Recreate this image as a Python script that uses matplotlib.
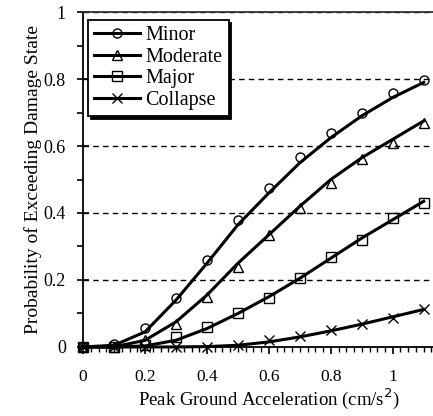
import numpy as np
import matplotlib
matplotlib.use("Agg")
import matplotlib.pyplot as plt
from matplotlib.ticker import MultipleLocator, FuncFormatter

plt.rcParams['font.family'] = ['Liberation Serif', 'DejaVu Serif']

# observed points (markers)
pga = [0.0, 0.1, 0.2, 0.3, 0.4, 0.5, 0.6, 0.7, 0.8, 0.9, 1.0, 1.1]
minor_pts = [0.0, 0.01, 0.057, 0.146, 0.26, 0.38, 0.475, 0.567, 0.64, 0.70, 0.758, 0.797]
moderate_pts = [0.0, 0.0, 0.02, 0.07, 0.15, 0.24, 0.334, 0.415, 0.49, 0.56, 0.61, 0.67]
major_pts = [0.0, 0.0, 0.005, 0.03, 0.06, 0.10, 0.145, 0.205, 0.27, 0.32, 0.385, 0.43]
collapse_pts = [0.0, 0.0, 0.0, 0.0, 0.0, 0.005, 0.02, 0.033, 0.05, 0.07, 0.087, 0.113]

# fitted curves
minor_fit = [0.0, 0.005, 0.045, 0.14, 0.25, 0.365, 0.46, 0.55, 0.625, 0.69, 0.745, 0.79]
moderate_fit = [0.0, 0.0, 0.02, 0.075, 0.155, 0.25, 0.335, 0.42, 0.50, 0.565, 0.62, 0.675]
major_fit = [0.0, 0.0, 0.003, 0.02, 0.055, 0.10, 0.15, 0.205, 0.265, 0.325, 0.38, 0.435]
collapse_fit = [0.0, 0.0, 0.0, 0.0, 0.001, 0.005, 0.015, 0.03, 0.048, 0.068, 0.09, 0.112]

labels = ['Minor', 'Moderate', 'Major', 'Collapse']
markers = ['o', '^', 's', 'x']

fig = plt.figure(figsize=(4.33, 4.16), dpi=100)
ax = fig.add_axes([0.192, 0.166, 0.808, 0.805])

pts = [minor_pts, moderate_pts, major_pts, collapse_pts]
fits = [minor_fit, moderate_fit, major_fit, collapse_fit]
handles = []
for p, f, m, lab in zip(pts, fits, markers, labels):
    ax.plot(pga, p, linestyle='none', marker=m, markersize=6.5,
            markerfacecolor='none', markeredgecolor='k', markeredgewidth=1.0,
            clip_on=False, zorder=3)
    ax.plot(pga, f, color='k', lw=2.2, zorder=4, clip_on=False)
    h, = ax.plot([], [], color='k', lw=2.2, marker=m, markersize=6.5,
                 markerfacecolor='none', markeredgecolor='k', markeredgewidth=1.0)
    handles.append(h)

ax.set_xlim(0, 1.13)
ax.set_ylim(0, 1)

# dashed horizontal lines
ax.yaxis.set_major_locator(MultipleLocator(0.2))
ax.yaxis.set_minor_locator(MultipleLocator(0.1))
ax.grid(axis='y', which='major', color='k', linestyle=(0, (4, 3)), lw=1.0)
ax.set_axisbelow(True)

ax.xaxis.set_major_locator(MultipleLocator(0.2))
ax.xaxis.set_minor_locator(MultipleLocator(0.025))
fmt = FuncFormatter(lambda v, pos: '{0:g}'.format(round(v, 2)))
ax.xaxis.set_major_formatter(fmt)
ax.yaxis.set_major_formatter(fmt)

ax.spines['right'].set_visible(False)
for s in ['left', 'bottom', 'top']:
    ax.spines[s].set_linewidth(1.3)
ax.spines['top'].set_color('#333333')

ax.tick_params(axis='y', which='major', direction='inout', length=9, width=1.2,
               labelsize=13, pad=8)
ax.tick_params(axis='y', which='minor', direction='out', length=4.5, width=1.2)
ax.tick_params(axis='x', which='major', direction='out', length=5, width=1.2,
               labelsize=12.5, pad=11)
ax.tick_params(axis='x', which='minor', direction='out', length=3.5, width=1.0)

ax.set_ylabel('Probability of Exceeding Damage State', fontsize=14, labelpad=1)
ax.set_xlabel('Peak Ground Acceleration (cm/s$^2$)', fontsize=13.5, labelpad=1, x=0.53)

leg = ax.legend(handles, labels, loc='upper left', bbox_to_anchor=(0.014, 0.976),
                borderaxespad=0, fancybox=False, shadow={'color': 'k', 'alpha': 1},
                framealpha=1, edgecolor='k', fontsize=14.5, handlelength=2.3,
                handletextpad=0.25, labelspacing=0.12, borderpad=0.3)
leg.get_frame().set_linewidth(1.3)

fig.savefig('out.png', dpi=100)
